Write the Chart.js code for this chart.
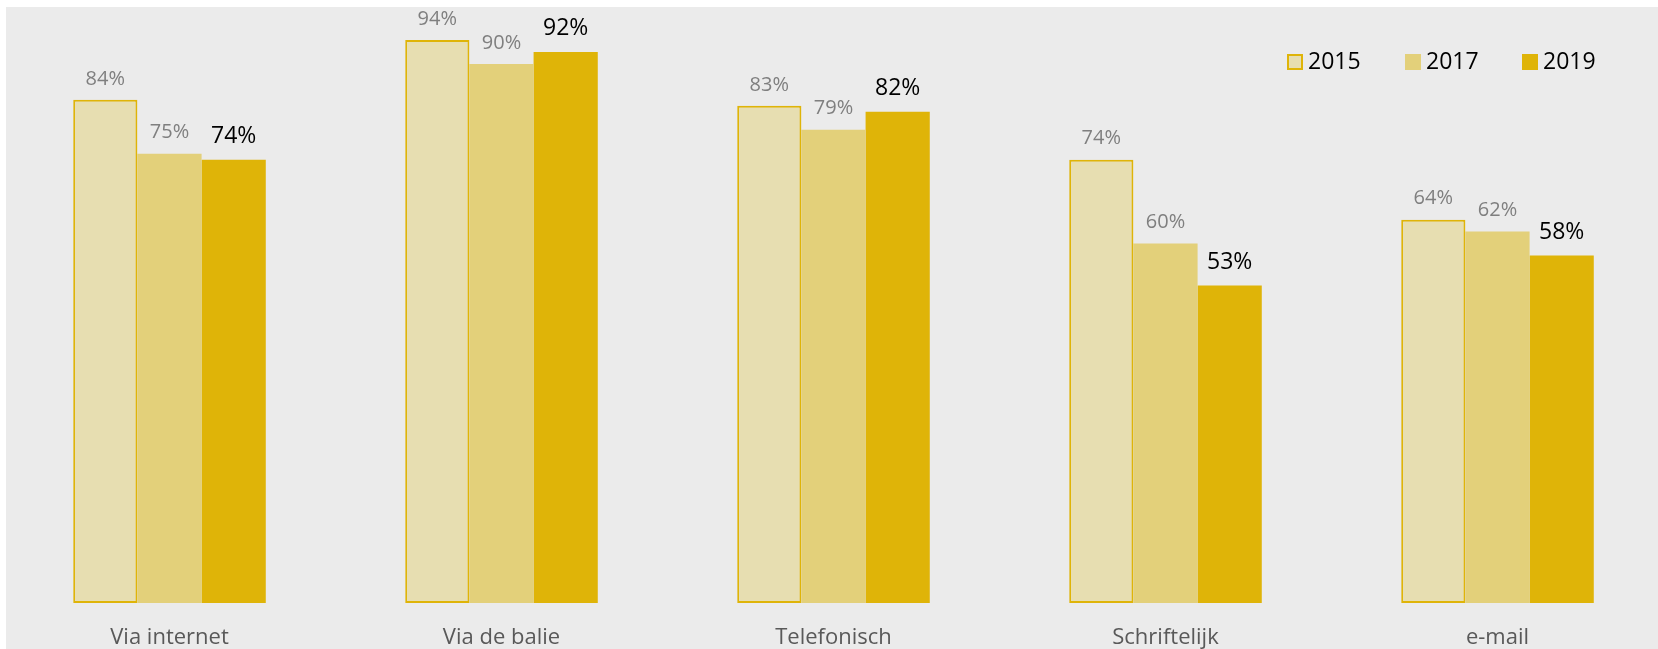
<!DOCTYPE html>
<html>
<head>
<meta charset="utf-8">
<script src="https://cdn.jsdelivr.net/npm/chart.js@4/dist/chart.umd.min.js"></script>
<style>
  html, body { margin: 0; padding: 0; background: #ffffff; overflow: hidden; }
  #bg { position: absolute; left: 6px; top: 7px; right: 0; bottom: 0; background: #ebebeb; }
  #wrap { position: absolute; left: 0; top: 0; width: 1667px; height: 649px; }
</style>
</head>
<body>
<div id="bg"></div>
<div id="wrap"><canvas id="chart"></canvas></div>
<script>
// Categorieën en waarden (%)
const categories = ['Via internet', 'Via de balie', 'Telefonisch', 'Schriftelijk', 'e-mail'];
const years = ['2015', '2017', '2019'];
const values2015 = [84, 94, 83, 74, 64];
const values2017 = [75, 90, 79, 60, 62];
const values2019 = [74, 92, 82, 53, 58];

const FONT = '"Open Sans", "Noto Sans", sans-serif';
const GOLD = '#dfb408';

// Labels boven de staven
const valueLabels = {
    id: 'valueLabels',
    afterDatasetsDraw(chart) {
        const ctx = chart.ctx;
        ctx.save();
        ctx.textAlign = 'center';
        ctx.textBaseline = 'bottom';
        chart.data.datasets.forEach((ds, i) => {
            const meta = chart.getDatasetMeta(i);
            const last = i === chart.data.datasets.length - 1;
            ctx.fillStyle = last ? '#000000' : '#7f7f7f';
            ctx.font = (last ? '23px ' : '20px ') + FONT;
            meta.data.forEach((bar, j) => {
                ctx.fillText(ds.data[j] + '%', bar.x, bar.y - (last ? 12 : 11));
            });
        });
        ctx.restore();
    }
};

// Legenda rechtsboven
const customLegend = {
    id: 'customLegend',
    afterDraw(chart) {
        const ctx = chart.ctx;
        const xs = [1287, 1405, 1522];
        ctx.save();
        ctx.font = '23px ' + FONT;
        ctx.textBaseline = 'middle';
        ctx.textAlign = 'left';
        chart.data.datasets.forEach((ds, i) => {
            const x = xs[i], y = 54;
            ctx.fillStyle = ds.backgroundColor;
            ctx.fillRect(x, y, 16, 16);
            if (ds.borderWidth) {
                ctx.strokeStyle = ds.borderColor;
                ctx.lineWidth = 2;
                ctx.strokeRect(x + 1, y + 1, 14, 14);
            }
            ctx.fillStyle = '#000000';
            ctx.fillText(ds.label, x + 21, y + 8);
        });
        ctx.restore();
    }
};

const datasets = [
    { label: years[0], data: values2015, backgroundColor: '#e7deb1', borderColor: GOLD, borderWidth: 2, borderSkipped: false },
    { label: years[1], data: values2017, backgroundColor: '#e3d07a', borderWidth: 0 },
    { label: years[2], data: values2019, backgroundColor: GOLD, borderWidth: 0 }
];

new Chart(document.getElementById('chart'), {
    type: 'bar',
    data: { labels: categories, datasets: datasets },
    options: {
        responsive: true,
        maintainAspectRatio: false,
        animation: false,
        layout: { padding: { left: 3.5, right: 3.5, top: 4, bottom: 0 } },
        datasets: { bar: { categoryPercentage: 0.58, barPercentage: 1 } },
        plugins: { legend: { display: false }, tooltip: { enabled: false } },
        scales: {
            x: {
                grid: { display: false, drawTicks: false },
                border: { display: false },
                ticks: { color: '#595959', font: { family: FONT, size: 22 }, padding: 22 },
                afterFit(scale) { scale.height = 46; }
            },
            y: { display: false, min: 0, max: 100 }
        }
    },
    plugins: [valueLabels, customLegend]
});
</script>
</body>
</html>
